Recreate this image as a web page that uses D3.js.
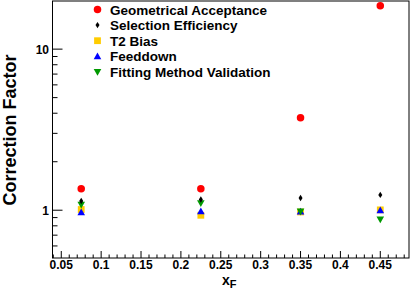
<!DOCTYPE html>
<html>
<head>
<meta charset="utf-8">
<script src="https://cdn.jsdelivr.net/npm/d3@7"></script>
<style>
  body { margin: 0; background: #fff; }
  text { font-family: "Liberation Sans", Arial, sans-serif; font-weight: bold; }
</style>
</head>
<body>
<div id="chart"></div>
<script>
// x_F bins and the correction factors
const xF = [0.075, 0.225, 0.35, 0.45];
const geomAcceptance = [1.36, 1.36, 3.75, 18.6];
const selectionEff = [1.14, 1.165, 1.19, 1.245];
const t2Bias = [1.01, 0.93, 0.975, 1.005];
const feeddown = [0.97, 0.985, 0.98, 1.0];
const fittingValidation = [1.08, 1.105, 0.98, 0.875];

const xTicks = [0.05, 0.1, 0.15, 0.2, 0.25, 0.3, 0.35, 0.4, 0.45];
const yTicks = [1, 10];

const series = [
  { name: "Geometrical Acceptance", values: geomAcceptance, color: "#ff0000", shape: "circle" },
  { name: "Selection Efficiency", values: selectionEff, color: "#000000", shape: "diamond" },
  { name: "T2 Bias", values: t2Bias, color: "#ffcc00", shape: "square" },
  { name: "Feeddown", values: feeddown, color: "#0000ff", shape: "up" },
  { name: "Fitting Method Validation", values: fittingValidation, color: "#009900", shape: "down" }
];

const width = 411, height = 289;
const margin = { left: 52.5, right: 2, top: 1, bottom: 31 };

const svg = d3.select("#chart").append("svg")
    .attr("width", width)
    .attr("height", height);

const x = d3.scaleLinear()
    .domain([0.039, 0.486])
    .range([margin.left, width - margin.right]);

const y = d3.scaleLog()
    .domain([0.505, 19.9])
    .range([height - margin.bottom, margin.top]);

// frame
svg.append("rect")
    .attr("x", margin.left)
    .attr("y", margin.top)
    .attr("width", width - margin.right - margin.left)
    .attr("height", height - margin.bottom - margin.top)
    .attr("fill", "none")
    .attr("stroke", "#000")
    .attr("stroke-width", 1);

// x axis: ticks pointing up into the frame
const y0 = height - margin.bottom;
const minorX = d3.range(0.04, 0.486, 0.01);
svg.append("g").selectAll("line")
    .data(minorX)
    .enter().append("line")
    .attr("x1", d => x(d)).attr("x2", d => x(d))
    .attr("y1", y0).attr("y2", d => y0 - (xTicks.some(t => Math.abs(t - d) < 1e-6) ? 7 : 3.5))
    .attr("stroke", "#000");

svg.append("g").selectAll("text")
    .data(xTicks)
    .enter().append("text")
    .attr("x", d => x(d))
    .attr("y", 269)
    .attr("text-anchor", "middle")
    .attr("font-size", 12)
    .text(d => d);

// y axis: log ticks pointing right into the frame
const minorY = [0.6, 0.7, 0.8, 0.9, 2, 3, 4, 5, 6, 7, 8, 9];
svg.append("g").selectAll("line")
    .data(minorY)
    .enter().append("line")
    .attr("x1", margin.left).attr("x2", margin.left + 5)
    .attr("y1", d => y(d)).attr("y2", d => y(d))
    .attr("stroke", "#000");

svg.append("g").selectAll("line")
    .data(yTicks)
    .enter().append("line")
    .attr("x1", margin.left).attr("x2", margin.left + 10)
    .attr("y1", d => y(d)).attr("y2", d => y(d))
    .attr("stroke", "#000");

svg.append("g").selectAll("text")
    .data(yTicks)
    .enter().append("text")
    .attr("x", 49)
    .attr("y", d => y(d) + 4.5)
    .attr("text-anchor", "end")
    .attr("font-size", 12)
    .text(d => d);

// axis titles
svg.append("text")
    .attr("transform", "translate(16,130) rotate(-90)")
    .attr("text-anchor", "middle")
    .attr("font-size", 18)
    .text("Correction Factor");

const xt = svg.append("text")
    .attr("x", 222)
    .attr("y", 285)
    .attr("font-size", 14);
xt.append("tspan").text("x");
xt.append("tspan").attr("font-size", 11).attr("dy", 3).text("F");

// marker shapes
function symbolFor(shape) {
  if (shape === "circle") return d3.symbol(d3.symbolCircle, 44)();
  if (shape === "square") return d3.symbol(d3.symbolSquare, 46)();
  if (shape === "diamond") return "M0,-3.2L2,0L0,3.2L-2,0Z";
  if (shape === "up") return "M0,-3.8L3.8,3L-3.8,3Z";
  return "M0,3.8L3.8,-3L-3.8,-3Z";
}

const drawOrder = [0, 2, 3, 4, 1];
drawOrder.forEach(i => {
  const s = series[i];
  svg.append("g").selectAll("path")
      .data(s.values)
      .enter().append("path")
      .attr("transform", (d, j) => `translate(${x(xF[j])},${y(d)})`)
      .attr("d", symbolFor(s.shape))
      .attr("fill", s.color);
});

// legend
const legend = svg.append("g");
series.forEach((s, i) => {
  const ly = 9.5 + i * 15.6;
  legend.append("path")
      .attr("transform", `translate(97.5,${ly})`)
      .attr("d", symbolFor(s.shape))
      .attr("fill", s.color);
  legend.append("text")
      .attr("x", 110)
      .attr("y", ly + 5)
      .attr("font-size", 13.5)
      .text(s.name);
});
</script>
</body>
</html>
